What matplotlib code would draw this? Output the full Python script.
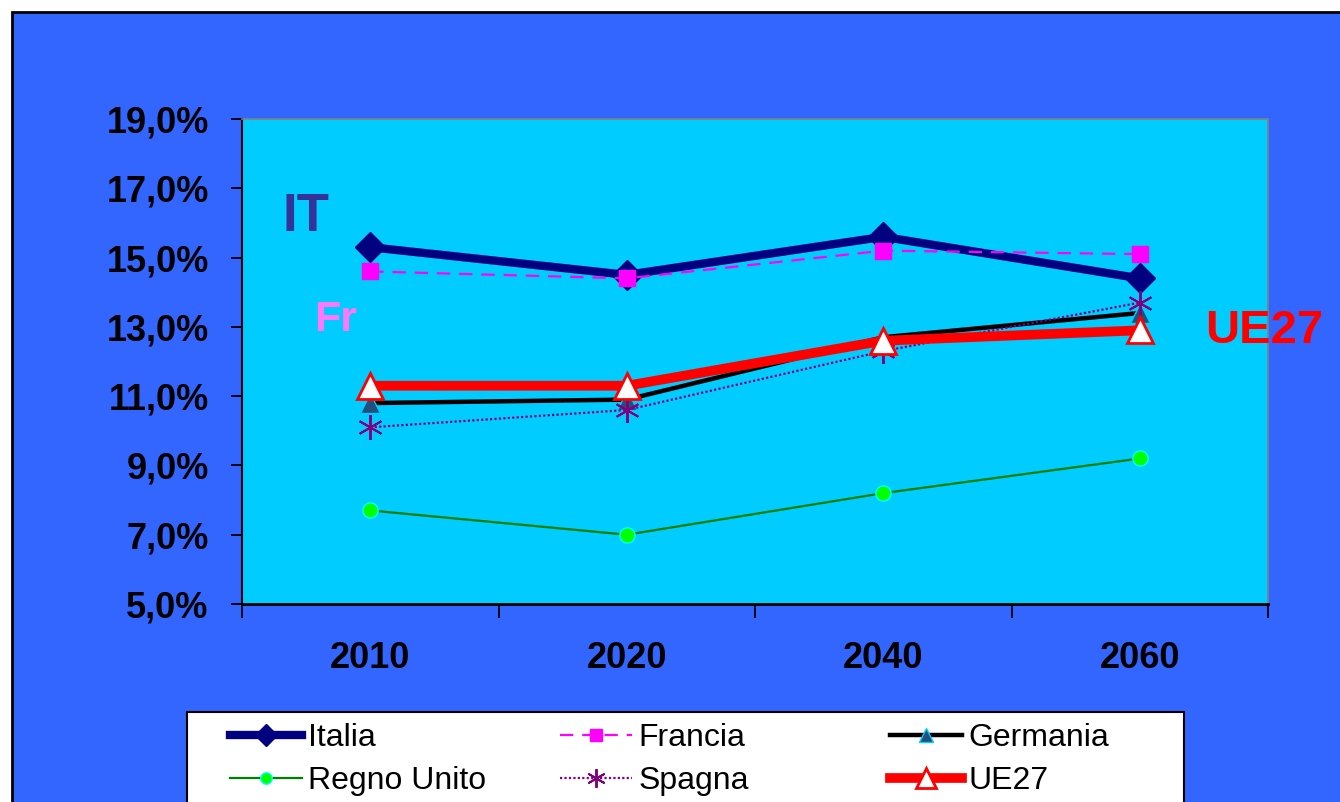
import matplotlib
matplotlib.use("Agg")
import matplotlib.pyplot as plt
from matplotlib.patches import Rectangle
from matplotlib.ticker import FuncFormatter

plt.rcParams['font.family'] = ['Liberation Sans', 'DejaVu Sans']

years = ["2010", "2020", "2040", "2060"]
italia = [15.3, 14.5, 15.6, 14.4]
francia = [14.6, 14.4, 15.2, 15.1]
germania = [10.8, 10.9, 12.7, 13.4]
regno_unito = [7.7, 7.0, 8.2, 9.2]
spagna = [10.1, 10.6, 12.3, 13.7]
ue27 = [11.3, 11.3, 12.6, 12.9]

W, H = 1340, 802
fig = plt.figure(figsize=(W / 100, H / 100), dpi=100)
fig.patch.set_facecolor("white")

# blue chart area with black frame (cut off at right/bottom)
fig.patches.append(Rectangle((12 / W, -0.05), 1.1, 1 - 12 / H + 0.05, transform=fig.transFigure,
                             facecolor="#3366FF", edgecolor="black", linewidth=2, zorder=-10))

ax = fig.add_axes([242 / W, 1 - 604 / H, 1026 / W, 485 / H])
ax.set_facecolor("#00CCFF")
ax.set_zorder(1)

x = [i + 0.5 for i in range(len(years))]
styles = [
    ("Italia", italia, dict(color="#000080", lw=6, ls="-", marker="D", ms=15,
                            mfc="#000080", mec="#000080")),
    ("Francia", francia, dict(color="#FF00FF", lw=1.6, ls=(0, (6, 4)), marker="s", ms=11,
                              mfc="#FF00FF", mec="#FF00FF")),
    ("Germania", germania, dict(color="black", lw=3.2, ls="-", marker="^", ms=14,
                                mfc="#22507A", mec="#00CCFF", mew=1)),
    ("Regno Unito", regno_unito, dict(color="#008000", lw=1.6, ls="-", marker="o", ms=11,
                                      mfc="#00FF00", mec="#00FFFF", mew=1)),
    ("Spagna", spagna, dict(color="#800080", lw=1.6, ls=(0, (1, 1)), marker=(6, 2, 0), ms=18,
                            mfc="#800080", mec="#800080", mew=1.4)),
    ("UE27", ue27, dict(color="#FF0000", lw=7, ls="-", marker="^", ms=19,
                        mfc="white", mec="#FF0000", mew=2)),
]
handles = []
for name, vals, st in styles:
    ln, = ax.plot(x, vals, label=name, clip_on=False, **st)
    handles.append(ln)

ax.set_xlim(0, 4)
ax.set_ylim(5, 19)
ax.set_yticks(range(5, 20, 2))
ax.yaxis.set_major_formatter(FuncFormatter(lambda v, p: f"{v:.1f}%".replace(".", ",")))
ax.set_xticks(range(0, 5))
ax.set_xticklabels([])
ax.set_xticks(x, minor=True)
ax.set_xticklabels(years, minor=True)
ax.tick_params(axis="x", which="major", direction="out", length=10, width=1.3, color="black")
ax.tick_params(axis="x", which="minor", length=0, pad=27, labelsize=26)
ax.tick_params(axis="y", direction="out", length=8, width=1.3, pad=16, labelsize=26)
for lab in ax.get_xticklabels(minor=True) + ax.get_yticklabels():
    lab.set_fontweight("bold")

ax.spines["left"].set_linewidth(1.5)
ax.spines["bottom"].set_linewidth(2)
ax.spines["top"].set_color("#808080")
ax.spines["right"].set_color("#808080")
ax.spines["top"].set_linewidth(1.2)
ax.spines["right"].set_linewidth(1.2)

ax.text(282 / W, 1 - 217 / H, "IT", transform=fig.transFigure, color="#333399",
        fontsize=38, fontweight="bold", va="center")
ax.text(314 / W, 1 - 320 / H, "Fr", transform=fig.transFigure, color="#FF77FF",
        fontsize=31, fontweight="bold", va="center")
fig.text(1205 / W, 1 - 331 / H, "UE27", color="#FF0000", fontsize=34, fontweight="bold",
         va="center", zorder=5)

# legend box
fig.patches.append(Rectangle((187 / W, -0.05), 997 / W, 1 - 712 / H + 0.05, transform=fig.transFigure,
                             facecolor="white", edgecolor="black", linewidth=1.5, zorder=1))
col_x = [230, 560, 890]
for c in range(3):
    leg = fig.legend(handles=[handles[c], handles[c + 3]], loc="upper left",
                     bbox_to_anchor=(col_x[c] / W, 1 - 723 / H), frameon=False,
                     prop={"size": 23}, markerscale=0.75, borderaxespad=0,
                     handlelength=2.25, handletextpad=0.2, labelspacing=0.42, borderpad=0)
    leg.set_zorder(2)

fig.savefig("out.png", dpi=100, facecolor=fig.get_facecolor())
